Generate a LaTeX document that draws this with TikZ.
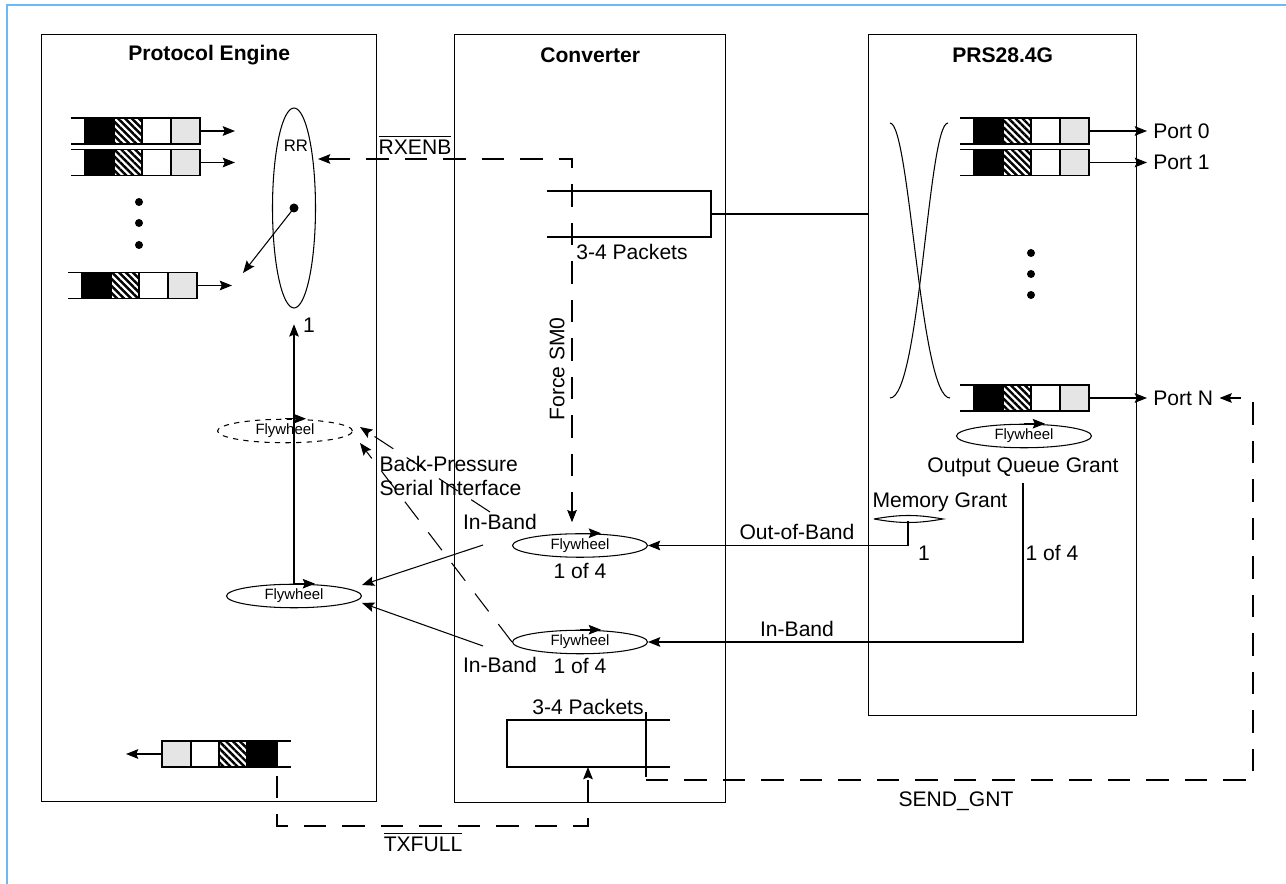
\documentclass[tikz,border=0pt]{standalone}
\usepackage{amsmath}
\usepackage{fontspec}
\setmainfont{Liberation Sans}
\usepackage{xcolor}
\usepackage{tikz}
\usetikzlibrary{positioning,arrows.meta,calc,shapes.geometric,patterns.meta}

\definecolor{framecol}{RGB}{110,185,245}

\begin{document}
\begin{tikzpicture}[
    x=0.02cm, y=-0.02cm,
    >={Stealth[length=7pt,width=5.5pt,inset=1.2pt]},
    line width=0.6pt,
    font=\fontsize{12}{14}\selectfont,
    every node/.style={align=center},
    block/.style={draw, rectangle, line width=0.8pt, anchor=north west, inner sep=0pt},
    title/.style={font=\fontsize{12}{14}\selectfont\bfseries},
    flywheel/.style={draw, ellipse, inner sep=0pt, minimum width=2.7cm,
        minimum height=0.47cm, font=\fontsize{8.5}{10}\selectfont},
    sig/.style={dash pattern=on 0.45cm off 0.32cm},
    hatch/.style={pattern={Lines[angle=-45,distance=2.8pt,line width=1.4pt]}},
    lightcell/.style={fill=black!10}
]
\useasboundingbox (0,0) rectangle (1286,884);

% Frame
\draw[framecol, line width=1.2pt] (7,884) -- (7,5) -- (1286,5);

% Blocks
\node[block, minimum width=6.7cm, minimum height=15.34cm] (pe) at (41,34) {};
\node[block, minimum width=5.42cm, minimum height=15.36cm] (conv) at (454,34) {};
\node[block, minimum width=5.36cm, minimum height=13.62cm] (prs) at (868,34) {};

\node[title] at ($(pe.north)+(0,21)$) {Protocol Engine};
\node[title] at ($(conv.north)+(0,21)$) {Converter};
\node[title] at ($(prs.north)+(0,21)$) {PRS28.4G};

% Queues
\foreach \qx/\qy/\qn in {200/131/pa, 200/162.5/pb, 197/285.5/pc,
                         1089/131/ra, 1089/162.5/rb, 1089/398/rn} {
    \fill[black] (\qx-115,\qy-13) rectangle (\qx-86,\qy+13);
    \fill[hatch] (\qx-86,\qy-13) rectangle (\qx-58,\qy+13);
    \fill[lightcell] (\qx-29,\qy-13) rectangle (\qx,\qy+13);
    \draw (\qx-129,\qy-13) -- (\qx,\qy-13) -- (\qx,\qy+13) -- (\qx-129,\qy+13);
    \foreach \cx in {29,58,86,115}
        \draw (\qx-\cx,\qy-13) -- (\qx-\cx,\qy+13);
    \coordinate (\qn) at (\qx,\qy);
    \coordinate (\qn-out) at (\qx+35,\qy);
}

% outgoing queue
\fill[lightcell] (162,741) rectangle (191,767);
\fill[hatch] (219,741) rectangle (247,767);
\fill[black] (247,741) rectangle (277,767);
\draw (291,741) -- (162,741) -- (162,767) -- (291,767);
\foreach \cx in {191,219,247,277}
    \draw (\cx,741) -- (\cx,767);
\coordinate (po) at (162,754);
\coordinate (po-out) at (126,754);
\coordinate (txq) at (277,776);

% Dots
\foreach \dy in {202,223,245}
    \fill (139,\dy) circle (0.08cm);
\foreach \dy in {253,274,295}
    \fill (1031,\dy) circle (0.08cm);

% Round robin
\node[draw, ellipse, inner sep=0pt, minimum width=0.86cm, minimum height=4cm] (rr) at (294,208) {};
\node[font=\fontsize{9.5}{11}\selectfont] at (296,146) {RR};
\fill (rr.center) circle (0.09cm);
\coordinate (sel) at (243,273);

% Flywheels
\node[flywheel, dashed] (fwbp) at (285,431) {Flywheel};
\node[flywheel] (fwpe) at (294,596) {Flywheel};
\node[flywheel] (fwob) at (580,545.5) {Flywheel};
\node[flywheel] (fwib) at (580,642) {Flywheel};
\node[flywheel] (fwoq) at (1024,436) {Flywheel};
\foreach \f in {fwbp,fwpe,fwob,fwib,fwoq}
    \draw[->] (\f.north) -- ++(21,0);

% Buffers
\coordinate (rxbuf) at (711,214);
\draw (547,191) -- (711,191) -- (711,237) -- (547,237);
\node at (632,252) {3-4 Packets};
\draw (670,720) -- (507,720) -- (507,767) -- (670,767);
\draw (646,712) -- (646,777);
\node at (588,707) {3-4 Packets};
\coordinate (txbuf) at (588,767);
\coordinate (sgs) at (646,780);

% Crossbar
\draw (890,123) .. controls (910,123) and (920,398) .. (950,398);
\draw (948,123) .. controls (928,123) and (920,398) .. (890,398);

% Labels
\node[anchor=west] (p0) at (1147,131) {Port 0};
\node[anchor=west] (p1) at (1147,162.5) {Port 1};
\node[anchor=west] (pn) at (1147,398) {Port N};
\node (oqgl) at (1023,467) {Output Queue Grant};
\node (mgl) at (940,502) {Memory Grant};
\node at (797,532) {Out-of-Band};
\node at (797,629) {In-Band};
\node at (924,553) {1};
\node at (1052,553) {1 of 4};
\node at (580,571) {1 of 4};
\node at (580,666) {1 of 4};
\node (ibl1) at (500,522) {In-Band};
\node (ibl2) at (500,665) {In-Band};
\node[anchor=west, align=left, inner sep=0pt] at (379,476) {Back-Pressure\\Serial Interface};
\node[rotate=90] at (557,369) {Force SM0};
\node at (415,145) {$\overline{\mbox{RXENB}}$};
\node at (423,842) {$\overline{\mbox{TXFULL}}$};
\node at (956,801) {SEND\_GNT};
\node at (309,325) {1};

% Data flow
\draw[->] (pa) -- (pa-out);
\draw[->] (pb) -- (pb-out);
\draw[->] (pc) -- (pc-out);
\draw[->] (ra) -- (p0.west);
\draw[->] (rb) -- (p1.west);
\draw[->] (rn) -- (pn.west);
\draw[->] (po) -- (po-out);
\draw[->] (rr.center) -- (sel);
\draw (rxbuf) -- (prs.west |- rxbuf);

% Grants
\draw[->, shorten >=9] (fwpe.north) -- (rr.south);
\draw[->] ($(ibl1)+(-17,23)$) -- ($(fwpe.east)+(0,-11)$);
\draw[->] ($(ibl2)+(-17,-19)$) -- ($(fwpe.east)+(0,7)$);
\draw (874,519) to[bend left=10] (943,519) to[bend left=10] (874,519);
\coordinate (mgb) at (908,521);
\draw[->] (mgb) -- (mgb |- fwob.east) -- (fwob.east);
\draw[->] (oqgl.south) -- (oqgl.south |- fwib.east) -- (fwib.east);

% Back-pressure
\coordinate (bpa) at (490,512);
\draw[sig, ->] (bpa) -- ($(fwbp.east)+(7,-4)$);
\draw[sig, ->] (fwib.west) -- ($(fwbp.east)+(7,12)$);

% Control signals
\coordinate (rxc) at (572,159);
\draw[sig, <->] ($(rr.east |- rxc)+(2,0)$) -- (rxc) -- ($(rxc |- fwob.north)+(0,-11)$);
\draw[sig, ->] (txq) -- (txq |- 0,826) -- (txbuf |- 0,826) -- (txbuf);
\coordinate (sgc) at (1253,780);
\draw[sig, ->] (sgs) -- (sgc) -- (sgc |- pn) -- (pn.east);

\end{tikzpicture}
\end{document}
